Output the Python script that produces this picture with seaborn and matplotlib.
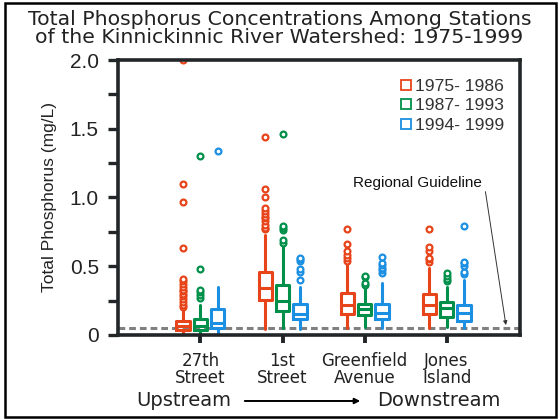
import matplotlib
matplotlib.use("Agg")
import matplotlib.pyplot as plt
import seaborn as sns
from matplotlib.lines import Line2D
from matplotlib.patches import Rectangle, FancyArrowPatch

# ---------------- data ----------------
stations = ["27th\nStreet", "1st\nStreet", "Greenfield\nAvenue", "Jones\nIsland"]
periods = ["1975- 1986", "1987- 1993", "1994- 1999"]
colors = ["#E8441A", "#00904A", "#1B8FE2"]

# per period: values for the 4 stations
q1 = [
    [0.036, 0.255, 0.155, 0.155],
    [0.036, 0.175, 0.143, 0.130],
    [0.050, 0.114, 0.114, 0.100],
]
med = [
    [0.068, 0.340, 0.220, 0.220],
    [0.068, 0.250, 0.190, 0.195],
    [0.090, 0.150, 0.160, 0.160],
]
q3 = [
    [0.100, 0.455, 0.306, 0.300],
    [0.118, 0.364, 0.228, 0.240],
    [0.190, 0.226, 0.228, 0.220],
]
whislo = [
    [0.010, 0.040, 0.050, 0.050],
    [0.010, 0.050, 0.060, 0.060],
    [0.010, 0.040, 0.050, 0.050],
]
whishi = [
    [0.190, 0.725, 0.510, 0.485],
    [0.220, 0.650, 0.340, 0.350],
    [0.350, 0.350, 0.380, 0.400],
]
fliers = [
    [
        [0.20, 0.22, 0.24, 0.26, 0.28, 0.30, 0.32, 0.33, 0.35, 0.37, 0.39, 0.41, 0.63, 0.97, 1.10, 2.00],
        [0.77, 0.78, 0.80, 0.83, 0.85, 0.86, 0.88, 0.90, 0.92, 1.00, 1.06, 1.44],
        [0.54, 0.56, 0.58, 0.61, 0.66, 0.77],
        [0.53, 0.55, 0.56, 0.61, 0.64, 0.77],
    ],
    [
        [0.27, 0.29, 0.31, 0.33, 0.48, 1.30],
        [0.67, 0.69, 0.76, 0.78, 0.79, 1.46],
        [0.36, 0.38, 0.42, 0.43],
        [0.39, 0.41, 0.43, 0.45],
    ],
    [
        [1.34],
        [0.40, 0.46, 0.48, 0.54, 0.55, 0.56],
        [0.45, 0.47, 0.49, 0.51, 0.52, 0.57],
        [0.44, 0.46, 0.50, 0.52, 0.53, 0.79],
    ],
]
guideline = 0.05
yticks = [0, 0.5, 1.0, 1.5, 2.0]
yticklabels = ["0", "0.5", "1.0", "1.5", "2.0"]
yminor = [0.25, 0.75, 1.25, 1.75]

# ---------------- figure ----------------
sns.set_style("white")
plt.rcParams["font.family"] = ["DejaVu Sans"]

fig = plt.figure(figsize=(5.59, 4.19), dpi=100)
ax = fig.add_axes([0.2104, 0.2005, 0.7206, 0.6563])

offsets = [-0.21, 0.0, 0.21]
box_w = 0.165
dark = "#222628"
txt = "#222222"

for p in range(len(periods)):
    stats = []
    for s in range(len(stations)):
        stats.append(dict(q1=q1[p][s], med=med[p][s], q3=q3[p][s],
                          whislo=whislo[p][s], whishi=whishi[p][s],
                          fliers=fliers[p][s]))
    c = colors[p]
    ax.bxp(stats, positions=[s + offsets[p] for s in range(len(stations))],
           widths=box_w, showcaps=False, patch_artist=False,
           boxprops=dict(color=c, linewidth=2.2),
           medianprops=dict(color=c, linewidth=2.2),
           whiskerprops=dict(color=c, linewidth=2.2),
           flierprops=dict(marker="o", markersize=4.2, markerfacecolor="white",
                           markeredgecolor=c, markeredgewidth=1.6, linestyle="none"),
           manage_ticks=False)

ax.axhline(guideline, color="#808080", linestyle=(0, (2.2, 1.3)), linewidth=2.2, zorder=0.5)

ax.set_xlim(-1.01, 3.9)
ax.set_ylim(0, 2.0)
ax.set_xticks(range(len(stations)))
ax.set_xticklabels(stations, fontsize=12, color=txt, linespacing=0.95)
ax.set_yticks(yticks)
ax.set_yticklabels(yticklabels, fontsize=15, color=txt, family="Liberation Sans")
ax.set_yticks(yminor, minor=True)
ax.tick_params(axis="y", which="both", direction="out", length=7.5, width=2.4,
               color=dark, pad=6, left=True)
ax.tick_params(axis="x", which="major", direction="out", length=6, width=2.8,
               color=dark, pad=6, bottom=True)
for sp in ax.spines.values():
    sp.set_linewidth(2.6)
    sp.set_color(dark)
    sp.set_visible(True)

ax.set_ylabel("Total Phosphorus (mg/L)", fontsize=12.5, color=txt,
              labelpad=9, family="Liberation Sans")

# title
fig.text(0.5, 1 - 25 / 419, "Total Phosphorus Concentrations Among Stations",
         ha="center", va="baseline", fontsize=14.7, color=txt)
fig.text(0.5, 1 - 42.7 / 419, "of the Kinnickinnic River Watershed: 1975-1999",
         ha="center", va="baseline", fontsize=14.7, color=txt)

# legend
handles = [Line2D([0], [0], marker="s", linestyle="none", markersize=6.5,
                  markerfacecolor="white", markeredgecolor=c, markeredgewidth=1.3)
           for c in colors]
leg = ax.legend(handles, periods, loc="upper right", bbox_to_anchor=(1.0, 0.99),
                frameon=False, handletextpad=0.15, labelspacing=0.24,
                handlelength=0.8, prop=dict(family="Liberation Sans", size=12.6))
for t in leg.get_texts():
    t.set_color("#333333")

# regional guideline annotation
ax.annotate("Regional Guideline", xy=(0.964, 0.036), xycoords="axes fraction",
            xytext=(0.745, 0.553), textcoords="axes fraction",
            fontsize=11, color="#111111", family="Liberation Sans",
            ha="center", va="center",
            arrowprops=dict(arrowstyle="-|>", color="#333333", lw=0.7,
                            mutation_scale=6, shrinkA=0, shrinkB=0,
                            relpos=(1.02, 0.2)))

# upstream / downstream
fig.text(183.5 / 559, 0.043, "Upstream", ha="center", va="center", fontsize=14,
         color=txt)
fig.text(438.5 / 559, 0.043, "Downstream", ha="center", va="center", fontsize=14,
         color=txt)
fig.add_artist(FancyArrowPatch((242 / 559, 0.043), (363 / 559, 0.043),
               transform=fig.transFigure, arrowstyle="-|>", mutation_scale=8,
               color="black", lw=1.4))

# outer frame
fig.add_artist(Rectangle((5 / 559, 2.5 / 419), 551 / 559, 413 / 419,
                         transform=fig.transFigure, fill=False, lw=1.8,
                         edgecolor="black"))

fig.savefig("out.png", dpi=100)
